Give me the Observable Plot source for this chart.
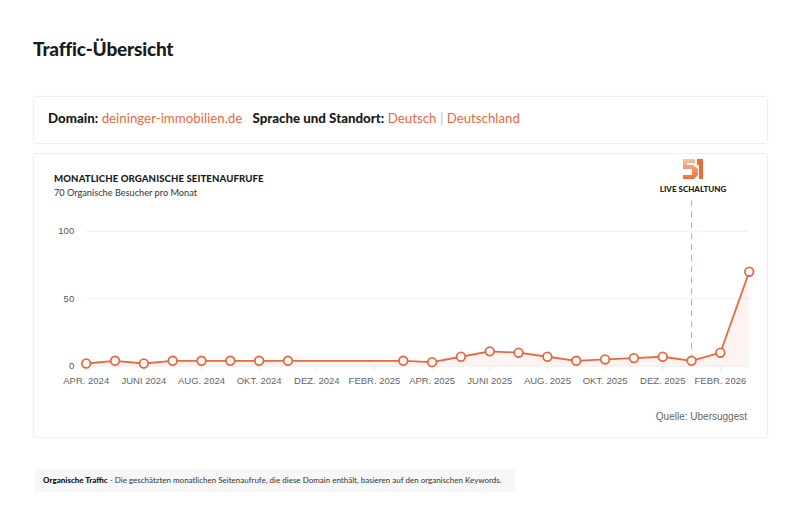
<!DOCTYPE html>
<html>
<head>
<meta charset="utf-8">
<script src="https://cdn.jsdelivr.net/npm/d3@7"></script>
<script src="https://cdn.jsdelivr.net/npm/@observablehq/plot@0.6"></script>
<style>
  html, body { margin: 0; padding: 0; background: #fff; width: 800px; height: 516px; overflow: hidden; }
  body { position: relative; font-family: Lato, "Open Sans", sans-serif; color: #1b1b1b; }
  .abs { position: absolute; white-space: nowrap; }
  .card { position: absolute; border: 1px solid #efefef; border-radius: 3px; background: #fff; box-shadow: 0 0 3px rgba(0,0,0,0.03); }
  .orange { color: #e8683f; }
  #chart { position: absolute; left: 0; top: 150px; }
</style>
</head>
<body>
<div class="abs" style="left:33px; top:37px; font-size:19px; font-weight:900; letter-spacing:-0.2px;">Traffic-Übersicht</div>

<div class="card" style="left:33px; top:96px; width:733px; height:46px;"></div>
<div class="abs" style="left:48px; top:110px; font-size:13.3px;">
  <b style="font-weight:900">Domain:</b> <span class="orange">deininger-immobilien.de</span>&nbsp;&nbsp; <b style="font-weight:900">Sprache und Standort:</b> <span class="orange">Deutsch</span> <span style="color:#bbb">|</span> <span class="orange">Deutschland</span>
</div>

<div class="card" style="left:33px; top:153px; width:733px; height:283px;"></div>
<div class="abs" style="left:54px; top:173px; font-size:9.6px; font-weight:900; letter-spacing:0.1px;">MONATLICHE ORGANISCHE SEITENAUFRUFE</div>
<div class="abs" style="left:54px; top:187px; font-size:9.2px; color:#333;">70 Organische Besucher pro Monat</div>

<svg class="abs" style="left:676px; top:154px;" width="34" height="28" viewBox="0 0 34 28">
  <defs>
    <linearGradient id="lg" x1="0" y1="0" x2="0" y2="1">
      <stop offset="0" stop-color="#f9c1a5"/>
      <stop offset="1" stop-color="#ef6b36"/>
    </linearGradient>
  </defs>
  <path d="M7,5 H19 V9 H11 V11 H17 L22,15 V21 L18,25 H7 V21 H16 V15 H7 Z" fill="url(#lg)"/>
  <path d="M21,5 H27 V25 H23 V11 H21 Z" fill="#ef6b36"/>
</svg>
<div class="abs" style="left:693px; top:184px; transform:translateX(-50%); font-size:8px; font-weight:900; color:#222;">LIVE SCHALTUNG</div>

<div id="chart"></div>

<div class="abs" style="right:53px; top:411px; font-size:10px; color:#666; font-family:'Liberation Sans', Arial, sans-serif;">Quelle: Ubersuggest</div>

<div class="abs" style="left:35px; top:469px; width:480px; height:23px; background:#f7f7f7;"></div>
<div class="abs" style="left:43px; top:475px; font-size:8px; color:#333;"><b style="font-weight:900; color:#111">Organische Traffic</b> - Die geschätzten monatlichen Seitenaufrufe, die diese Domain enthält, basieren auf den organischen Keywords.</div>

<script>
const months = ["2024-04","2024-05","2024-06","2024-07","2024-08","2024-09","2024-10","2024-11","2024-12",
  "2025-01","2025-02","2025-03","2025-04","2025-05","2025-06","2025-07","2025-08","2025-09","2025-10",
  "2025-11","2025-12","2026-01","2026-02","2026-03"];
const tickMonths = ["2024-04","2024-06","2024-08","2024-10","2024-12","2025-02","2025-04","2025-06","2025-08","2025-10","2025-12","2026-02"];
const tickLabels = ["APR. 2024","JUNI 2024","AUG. 2024","OKT. 2024","DEZ. 2024","FEBR. 2025","APR. 2025","JUNI 2025","AUG. 2025","OKT. 2025","DEZ. 2025","FEBR. 2026"];
const dataMonths = ["2024-04","2024-05","2024-06","2024-07","2024-08","2024-09","2024-10","2024-11",
  "2025-03","2025-04","2025-05","2025-06","2025-07","2025-08","2025-09","2025-10","2025-11","2025-12",
  "2026-01","2026-02","2026-03"];
const visits = [2,4,2,4,4,4,4,4, 4,3,7,11,10,7,4,5,6,7,4,10,70];
const yTicks = [0, 50, 100];
const liveMonth = "2026-01";

const idx = m => months.indexOf(m);
const data = dataMonths.map((m, i) => ({i: idx(m), value: visits[i]}));
const labelOf = new Map(tickMonths.map((m, i) => [idx(m), tickLabels[i]]));
const orange = "#e8683f";

const chart = Plot.plot({
  width: 800,
  height: 260,
  marginLeft: 85.7,
  marginRight: 51.3,
  marginTop: 80.7,
  marginBottom: 44.3,
  x: {type: "linear", domain: [0, months.length - 1]},
  y: {domain: [0, 100]},
  style: {fontFamily: "'Liberation Sans', Arial, sans-serif", fontSize: "9.5px", color: "#666", background: "transparent", overflow: "visible"},
  marks: [
    Plot.gridY(yTicks, {stroke: "#eeeeee", strokeOpacity: 1}),
    Plot.axisY(yTicks, {tickSize: 0, tickPadding: 12, fill: "#555", label: null}),
    Plot.axisX(tickMonths.map(idx), {tickSize: 5, tickPadding: 6, stroke: "#e6e6e6", fill: "#666", tickFormat: d => labelOf.get(d), label: null}),
    Plot.areaY(data, {x: "i", y: "value", fill: orange, fillOpacity: 0.07}),
    Plot.ruleX([idx(liveMonth)], {y1: 4, y2: 123, stroke: "#ee9a7c", strokeDasharray: "6,5", strokeWidth: 1}),
    Plot.lineY(data, {x: "i", y: "value", stroke: orange, strokeWidth: 1.8}),
    Plot.dot(data, {x: "i", y: "value", r: 4.3, fill: "white", stroke: orange, strokeWidth: 1.8})
  ]
});
document.getElementById("chart").appendChild(chart);
</script>
</body>
</html>
